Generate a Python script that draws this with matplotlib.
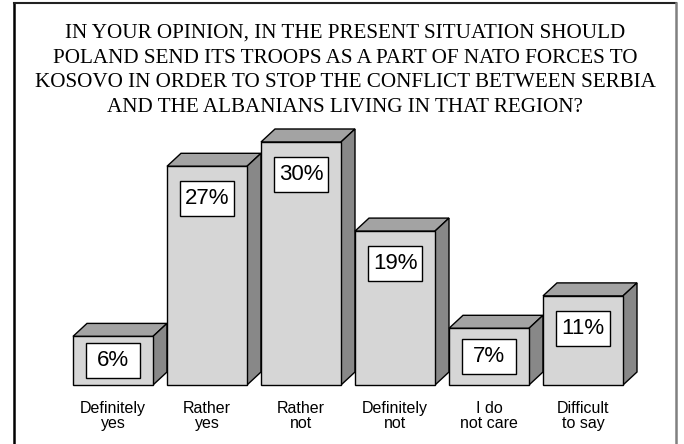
import matplotlib
matplotlib.use("Agg")
import matplotlib.pyplot as plt
from matplotlib.patches import Polygon, Rectangle
from matplotlib.lines import Line2D

TITLE = ("IN YOUR OPINION, IN THE PRESENT SITUATION SHOULD\n"
         "POLAND SEND ITS TROOPS AS A PART OF NATO FORCES TO\n"
         "KOSOVO IN ORDER TO STOP THE CONFLICT BETWEEN SERBIA\n"
         "AND THE ALBANIANS LIVING IN THAT REGION?")
categories = ["Definitely\nyes", "Rather\nyes", "Rather\nnot",
              "Definitely\nnot", "I do\nnot care", "Difficult\nto say"]
values = [6, 27, 30, 19, 7, 11]

FRONT = "#d6d6d6"
TOP = "#a3a3a3"
SIDE = "#888888"

W, H = 684, 444
fig = plt.figure(figsize=(W / 100, H / 100), dpi=100)
ax = fig.add_axes([0, 0, 1, 1])
# pixel-calibrated scales: 94 px per category, 8.1 px per percent
ax.set_xlim(-113 / 94, (W - 113) / 94)
ax.set_ylim(-59 / 8.1, (H - 59) / 8.1)
ax.axis("off")

bw = 80 / 94          # bar front width
dx = 14 / 94          # depth offset (x)
dy = 13 / 8.1         # depth offset (y, percent units)
bx = 54 / 94          # label box width
bh = 35 / 8.1         # label box height

for i, v in enumerate(values):
    x0, x1 = i - bw / 2, i + bw / 2
    ax.add_patch(Polygon([(x0, 0), (x1, 0), (x1, v), (x0, v)],
                         closed=True, fc=FRONT, ec="black", lw=1.0, zorder=3))
    ax.add_patch(Polygon([(x0, v), (x1, v), (x1 + dx, v + dy), (x0 + dx, v + dy)],
                         closed=True, fc=TOP, ec="black", lw=1.0, zorder=2))
    ax.add_patch(Polygon([(x1, 0), (x1 + dx, dy), (x1 + dx, v + dy), (x1, v)],
                         closed=True, fc=SIDE, ec="black", lw=1.0, zorder=2))
    cy = v - min(4.0, 0.5 * v)
    ax.add_patch(Rectangle((i - bx / 2, cy - bh / 2), bx, bh,
                           fc="white", ec="black", lw=1.0, zorder=4))
    ax.text(i, cy, f"{v}%", ha="center", va="center", fontsize=16,
            family="Liberation Sans", zorder=5)
    ax.text(i, -2.0, categories[i], ha="center", va="top", fontsize=11.5,
            family="Liberation Sans", linespacing=1.0)

fig.text(345 / W, 1 - 24 / H, TITLE, ha="center", va="top",
         fontsize=15.2, family="Liberation Serif", linespacing=1.4)

# frame
fig.add_artist(Line2D([14 / W, 14 / W], [0, 1 - 3 / H], color="black",
                      lw=1.8, transform=fig.transFigure))
fig.add_artist(Line2D([14 / W, 676 / W], [1 - 3 / H, 1 - 3 / H],
                      color="#222222", lw=1.5, transform=fig.transFigure))
fig.add_artist(Line2D([676 / W, 676 / W], [0, 1 - 3 / H], color="#808080",
                      lw=1.8, transform=fig.transFigure))

fig.savefig("out.png", dpi=100)
